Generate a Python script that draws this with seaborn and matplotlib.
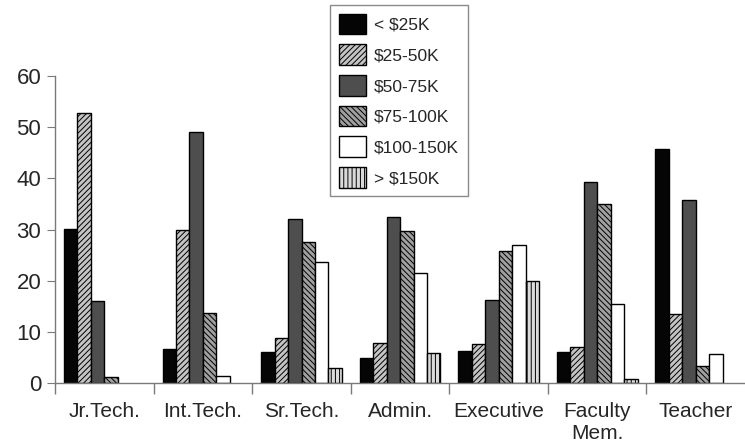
import pandas as pd
import matplotlib
matplotlib.use('Agg')
import matplotlib.pyplot as plt
import seaborn as sns

# ─── DATA ─────────────────────────────────────────────────────────────────────
JOBS = ['Jr.Tech.', 'Int.Tech.', 'Sr.Tech.', 'Admin.', 'Executive',
        'Faculty\nMem.', 'Teacher']
INCOMES = ['< $25K', '$25-50K', '$50-75K', '$75-100K', '$100-150K', '> $150K']

LT_25K    = [30.2, 6.6, 6.1, 4.9, 6.3, 6.1, 45.7]
K25_50    = [52.7, 29.9, 8.9, 7.8, 7.6, 7.1, 13.4]
K50_75    = [16.1, 49.1, 32.0, 32.4, 16.2, 39.3, 35.8]
K75_100   = [1.1, 13.7, 27.6, 29.7, 25.9, 35.0, 3.3]
K100_150  = [0.0, 1.4, 23.6, 21.6, 27.0, 15.4, 5.7]
GT_150K   = [0.0, 0.0, 3.0, 5.9, 20.0, 0.7, 0.0]

SERIES = [LT_25K, K25_50, K50_75, K75_100, K100_150, GT_150K]

# ─── STYLE ────────────────────────────────────────────────────────────────────
FACES   = ['#050505', '#c4c4c4', '#4e4e4e', '#a0a0a0', '#ffffff', '#dadada']
HATCHES = ['', '//////', '', '\\\\\\\\\\\\', '', '||||']

rows = []
for inc, vals in zip(INCOMES, SERIES):
    for job, v in zip(JOBS, vals):
        rows.append({'job': job, 'income': inc, 'pct': v})
df = pd.DataFrame(rows)

sns.set_style('white')
plt.rcParams['font.family'] = ['Liberation Sans', 'DejaVu Sans']
plt.rcParams['hatch.linewidth'] = 0.7

fig = plt.figure(figsize=(7.45, 4.47), dpi=100)
ax = fig.add_axes([0.074, 0.143, 0.926, 0.687])

sns.barplot(data=df, x='job', y='pct', hue='income', order=JOBS,
            hue_order=INCOMES, palette=FACES, width=0.82, gap=0,
            edgecolor='black', linewidth=1.0, saturation=1, ax=ax)

for cont, hatch, face in zip(ax.containers, HATCHES, FACES):
    for bar in cont:
        bar.set_hatch(hatch)
        bar.set_facecolor(face)
        if bar.get_height() == 0:
            bar.set_visible(False)

ax.set_xlim(-0.5, len(JOBS) - 0.5)
ax.set_ylim(0, 60)
ax.set_yticks(range(0, 61, 10))
ax.set_xlabel('')
ax.set_ylabel('')

for s in ['top', 'right']:
    ax.spines[s].set_visible(False)
for s in ['left', 'bottom']:
    ax.spines[s].set_color('#7a7a7a')
    ax.spines[s].set_linewidth(1.0)

ax.tick_params(axis='y', which='major', left=True, length=6, color='#7a7a7a',
               labelsize=16, pad=4)
ax.tick_params(axis='x', which='major', bottom=False, labelsize=15, pad=10)
ax.set_xticks([i - 0.5 for i in range(len(JOBS))], minor=True)
ax.tick_params(axis='x', which='minor', bottom=True, length=8,
               color='#7a7a7a', width=1.0)

handles, labels = ax.get_legend_handles_labels()
for h, hatch, face in zip(handles, HATCHES, FACES):
    h.set_hatch(hatch)
    h.set_facecolor(face)
    h.set_edgecolor('black')
leg = ax.legend(handles, labels, loc='upper left',
                bbox_to_anchor=(330 / 745, 1 - 5 / 447),
                bbox_transform=fig.transFigure, fontsize=12.5,
                frameon=True, fancybox=False, framealpha=1, borderaxespad=0,
                edgecolor='#8a8a8a', handlelength=1.6, handleheight=1.45,
                labelspacing=0.58, handletextpad=0.45, borderpad=0.5)
leg.get_frame().set_linewidth(1.0)

fig.savefig('out.png', dpi=100)
